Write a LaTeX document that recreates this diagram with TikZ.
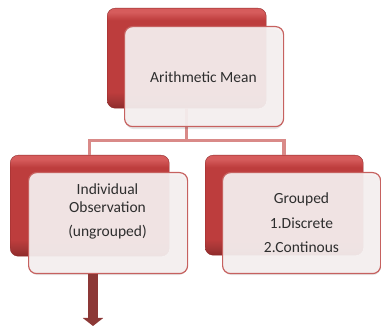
\documentclass[tikz,border=0pt]{standalone}
\usepackage{fontspec}
\setmainfont{Carlito}
\usetikzlibrary{arrows.meta}
\definecolor{acc}{HTML}{C0504D}
\definecolor{accdark}{HTML}{8C3836}
\definecolor{acclight}{HTML}{D98A88}
\definecolor{frontfill}{HTML}{F6F1F1}
\definecolor{rlight}{HTML}{D65C5C}
\definecolor{rmid}{HTML}{BD3D3D}
\definecolor{rdark}{HTML}{8E2A2A}
\pgfdeclareverticalshading{redgloss}{100bp}{color(0bp)=(rdark); color(25bp)=(rdark); color(28bp)=(rmid!85!black); color(33bp)=(rmid); color(69bp)=(rmid); color(73bp)=(rlight); color(75bp)=(rlight); color(100bp)=(rlight)}
\begin{document}
\begin{tikzpicture}[x=1pt,y=-1pt,
  backbox/.style={rectangle, rounded corners=8pt, draw=rdark, line width=0.4pt,
    shading=redgloss,
    minimum width=159pt, minimum height=100pt, inner sep=0pt, anchor=north west},
  frontbox/.style={rectangle, rounded corners=8pt, draw=acc!90!white, line width=1.2pt,
    fill=frontfill, fill opacity=0.93, draw opacity=1,
    minimum width=158pt, minimum height=100pt, inner sep=0pt, anchor=north west},
  shadowbox/.style={rectangle, rounded corners=9pt, fill=black, fill opacity=0.10, draw=none,
    minimum width=158pt, minimum height=100pt, inner sep=0pt, anchor=north west},
  conn/.style={draw=acclight, line width=3.5pt},
  lbl/.style={font=\fontsize{15.5}{18}\selectfont, align=center, text=black!82}
]
\useasboundingbox (0,0) rectangle (381,326);

% back boxes
\node[backbox] (topback) at (107,8) {};
\node[backbox, minimum height=101pt] (leftback) at (10,155) {};
\node[backbox, minimum width=158pt] (rightback) at (205,155) {};

% connectors
\draw[conn] (topback.south) -- ++(0,32) -| (leftback.north);
\draw[conn] (topback.south) -- ++(0,32) -| (rightback.north);

% shadows
\node[shadowbox] (topshadow) at (125,29) {};
\node[shadowbox] (leftshadow) at (29,175) {};
\node[shadowbox] (rightshadow) at (223,175) {};

% front boxes
\node[frontbox, minimum width=159pt] (topfront) at (124,26) {};
\node[frontbox, minimum width=159pt, minimum height=101pt] (leftfront) at (28,172) {};
\node[frontbox, minimum height=101pt] (rightfront) at (222,172) {};

% labels
\node[lbl] (toplbl) at (203.5,77) {Arithmetic Mean};
\node[lbl] (leftlbl) at (107.5,211) {Individual\\Observation\\[6pt](ungrouped)};
\node[lbl, font=\fontsize{15.5}{24.5}\selectfont] (rightlbl) at (301.5,223) {Grouped\\1.Discrete\\2.Continous};

% arrow
\coordinate (arrowstart) at (93,273.6);
\coordinate (arrowend) at (93,326);
\draw[draw=accdark, line width=10pt, -{Triangle[width=20pt,length=8pt]}, color=accdark] (arrowstart) -- (arrowend);
\end{tikzpicture}
\end{document}
